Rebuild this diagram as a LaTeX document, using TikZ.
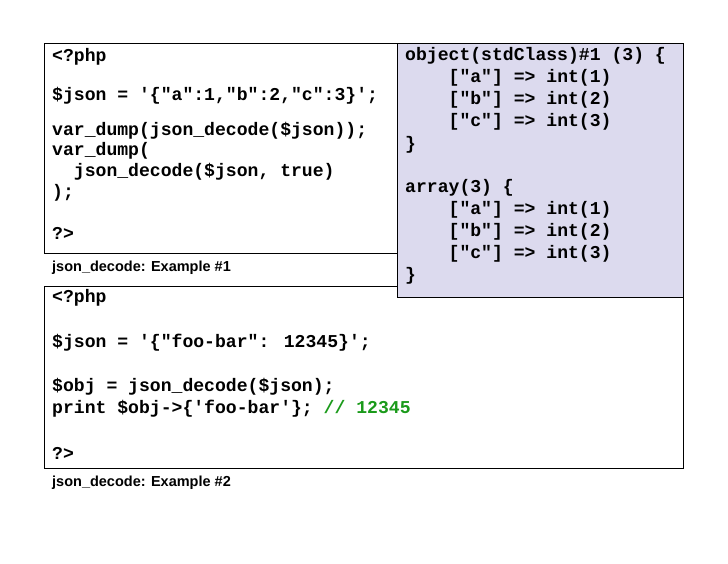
\documentclass[tikz,border=0pt]{standalone}
\usepackage{fontspec}
\setmainfont{Liberation Sans}
\newfontfamily\codefont{Liberation Mono}
\definecolor{lav}{HTML}{DCDAEE}
\definecolor{cgreen}{HTML}{1A9A1A}
\begin{document}
\begin{tikzpicture}[x=1pt,y=-1pt,
  code/.style={anchor=west,inner sep=0pt,font=\codefont\bfseries\fontsize{18.1}{20}\selectfont},
  captext/.style={anchor=west,inner sep=0pt,font=\bfseries\fontsize{14.5}{16}\selectfont},
  box/.style={draw=black,line width=0.8pt}]
\useasboundingbox (0,0) rectangle (728,563);
\draw[box] (44,43) rectangle (397,253);
\draw[box] (44,286) rectangle (683,468);
\draw[box,fill=lav] (397,43) rectangle (683,297);
% box 1
\node[code] (a1) at (52,57) {<?php};
\node[code] (a2) at (52,96) {\$json = '\{"a":1,"b":2,"c":3\}';};
\node[code] (a3) at (52,131) {var\_dump(json\_decode(\$json));};
\node[code] (a4) at (52,151) {var\_dump(};
\node[code] (a5) at (52,172) {\ \ json\_decode(\$json, true)};
\node[code] (a6) at (52,193) {);};
\node[code] (a7) at (52,233) {?>};
\node[captext] (c1) at (52,268) {json\_decode: Example \#1};
% box 2
\node[code] (b1) at (405,56) {object(stdClass)\#1 (3) \{};
\node[code] (b2) at (405,78) {\ \ \ \ ["a"] => int(1)};
\node[code] (b3) at (405,100) {\ \ \ \ ["b"] => int(2)};
\node[code] (b4) at (405,122) {\ \ \ \ ["c"] => int(3)};
\node[code] (b5) at (405,145) {\}};
\node[code] (b6) at (405,188) {array(3) \{};
\node[code] (b7) at (405,210) {\ \ \ \ ["a"] => int(1)};
\node[code] (b8) at (405,232) {\ \ \ \ ["b"] => int(2)};
\node[code] (b9) at (405,254) {\ \ \ \ ["c"] => int(3)};
\node[code] (b10) at (405,276) {\}};
% box 3
\node[code] (d1) at (52,298) {<?php};
\node[code] (d2) at (52,343) {\$json = '\{"foo-bar": 12345\}';};
\node[code] (d3) at (52,387) {\$obj = json\_decode(\$json);};
\node[code] (d4) at (52,409) {print \$obj->\{'foo-bar'\}; \textcolor{cgreen}{// 12345}};
\node[code] (d5) at (52,453) {?>};
\node[captext] (c2) at (52,483) {json\_decode: Example \#2};
\end{tikzpicture}
\end{document}
